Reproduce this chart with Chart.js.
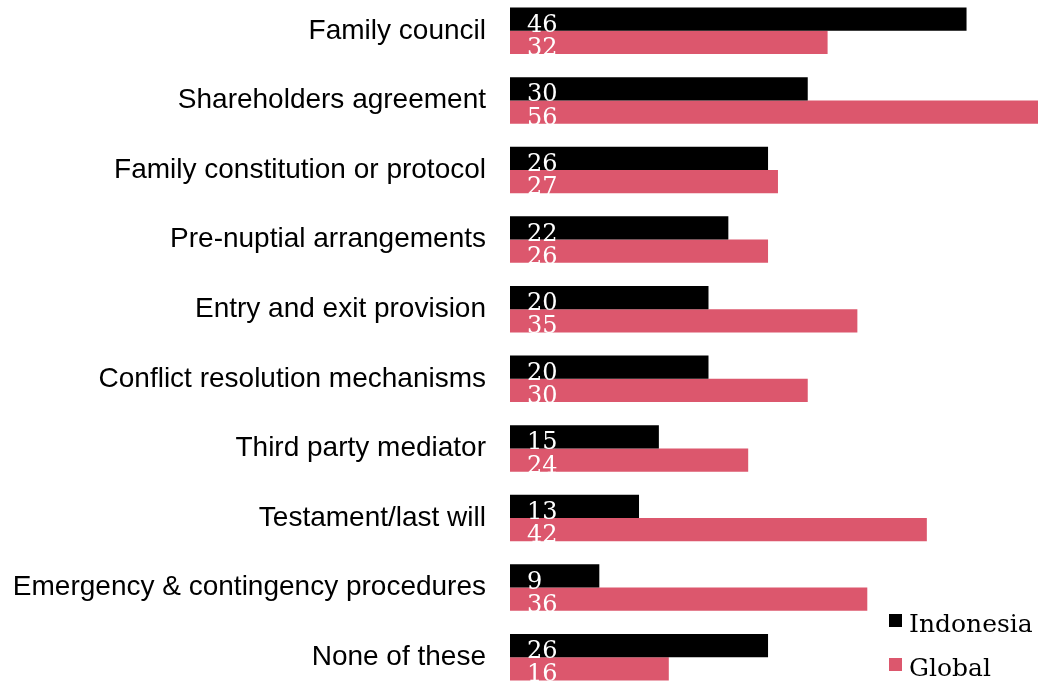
<!DOCTYPE html>
<html>
<head>
<meta charset="utf-8">
<script src="https://cdn.jsdelivr.net/npm/chart.js@4.4.1/dist/chart.umd.min.js"></script>
<style>
  html, body { margin: 0; padding: 0; background: #ffffff; overflow: hidden; }
  #wrap { position: absolute; left: 0; top: -4px; width: 1038px; height: 696px; }
</style>
</head>
<body>
<div id="wrap"><canvas id="chart"></canvas></div>
<script>
const categories = [
  'Family council',
  'Shareholders agreement',
  'Family constitution or protocol',
  'Pre-nuptial arrangements',
  'Entry and exit provision',
  'Conflict resolution mechanisms',
  'Third party mediator',
  'Testament/last will',
  'Emergency & contingency procedures',
  'None of these'
];
const seriesNames = ['Indonesia', 'Global'];
const indonesia = [46, 30, 26, 22, 20, 20, 15, 13, 9, 26];
const global = [32, 56, 27, 26, 35, 30, 24, 42, 36, 16];

const BLACK = '#000000';
const PINK = '#DC576D';

// White value labels written just inside the start of every bar
const valueLabels = {
  id: 'valueLabels',
  afterDatasetsDraw(chart) {
    const ctx = chart.ctx;
    ctx.save();
    ctx.font = '24px "DejaVu Serif"';
    ctx.fillStyle = '#ffffff';
    ctx.textAlign = 'left';
    ctx.textBaseline = 'alphabetic';
    chart.data.datasets.forEach((ds, di) => {
      const meta = chart.getDatasetMeta(di);
      meta.data.forEach((bar, i) => {
        const left = Math.min(bar.base, bar.x);
        const bottom = bar.y + bar.height / 2;
        ctx.fillText(String(ds.data[i]), left + 17, bottom + 1);
      });
    });
    ctx.restore();
  }
};

// Legend with square markers in the lower right corner
const cornerLegend = {
  id: 'cornerLegend',
  afterDraw(chart, args, opts) {
    const ctx = chart.ctx;
    ctx.save();
    ctx.font = '25px "DejaVu Serif"';
    ctx.textAlign = 'left';
    ctx.textBaseline = 'alphabetic';
    chart.data.datasets.forEach((ds, i) => {
      const top = opts.y + i * opts.gap;
      ctx.fillStyle = ds.backgroundColor;
      ctx.fillRect(opts.x, top, opts.box, opts.box);
      ctx.fillStyle = '#000000';
      ctx.fillText(ds.label, opts.x + opts.box + 7, top + opts.box + 5);
    });
    ctx.restore();
  }
};

new Chart(document.getElementById('chart'), {
  type: 'bar',
  data: {
    labels: categories,
    datasets: [
      { label: seriesNames[0], data: indonesia, backgroundColor: BLACK },
      { label: seriesNames[1], data: global, backgroundColor: PINK }
    ]
  },
  options: {
    indexAxis: 'y',
    responsive: true,
    maintainAspectRatio: false,
    animation: false,
    layout: { padding: 0 },
    datasets: {
      bar: { barPercentage: 1.0, categoryPercentage: 0.668, borderWidth: 0 }
    },
    scales: {
      x: {
        display: false,
        min: 0,
        max: 53.2
      },
      y: {
        grid: { display: false, drawTicks: false },
        border: { display: false },
        ticks: {
          color: '#000000',
          padding: 24,
          font: { family: '"Liberation Sans", Arial, sans-serif', size: 28 }
        },
        afterFit(scale) {
          // fixed label column; bars fill the full height
          scale.width = 510;
          scale.paddingTop = 0;
          scale.paddingBottom = 0;
        }
      }
    },
    plugins: {
      legend: { display: false },
      tooltip: { enabled: false },
      cornerLegend: { x: 889, y: 618, box: 13, gap: 44 }
    }
  },
  plugins: [valueLabels, cornerLegend]
});
</script>
</body>
</html>
